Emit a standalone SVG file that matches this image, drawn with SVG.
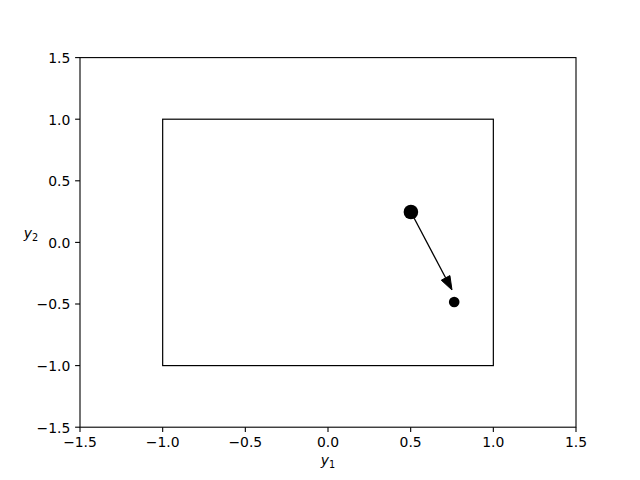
<svg xmlns="http://www.w3.org/2000/svg" width="640" height="480" viewBox="0 0 640 480">
<style>
.t{font-family:"DejaVu Sans",sans-serif;font-size:13.9px;fill:#000}
.tk{stroke:#000;stroke-width:1.1}
.lbl{font-family:"DejaVu Sans",sans-serif;font-size:13.9px;font-style:italic}
.sub{font-style:normal;font-size:9.7px}
</style>
<rect width="640" height="480" fill="#fff"/>
<g id="axes">
<rect x="80" y="57.6" width="496" height="369.6" fill="none" stroke="#000" stroke-width="1.1"/>
<g class="tk">
<line x1="80" y1="427.2" x2="80" y2="432.1"/>
<line x1="162.67" y1="427.2" x2="162.67" y2="432.1"/>
<line x1="245.33" y1="427.2" x2="245.33" y2="432.1"/>
<line x1="328" y1="427.2" x2="328" y2="432.1"/>
<line x1="410.67" y1="427.2" x2="410.67" y2="432.1"/>
<line x1="493.33" y1="427.2" x2="493.33" y2="432.1"/>
<line x1="576" y1="427.2" x2="576" y2="432.1"/>
<line x1="75.1" y1="57.6" x2="80" y2="57.6"/>
<line x1="75.1" y1="119.2" x2="80" y2="119.2"/>
<line x1="75.1" y1="180.8" x2="80" y2="180.8"/>
<line x1="75.1" y1="242.4" x2="80" y2="242.4"/>
<line x1="75.1" y1="304" x2="80" y2="304"/>
<line x1="75.1" y1="365.6" x2="80" y2="365.6"/>
<line x1="75.1" y1="427.2" x2="80" y2="427.2"/>
</g>
<g class="t" text-anchor="middle">
<text x="80" y="446.5">−1.5</text>
<text x="162.67" y="446.5">−1.0</text>
<text x="245.33" y="446.5">−0.5</text>
<text x="328" y="446.5">0.0</text>
<text x="410.67" y="446.5">0.5</text>
<text x="493.33" y="446.5">1.0</text>
<text x="576" y="446.5">1.5</text>
</g>
<g class="t" text-anchor="end">
<text x="70.3" y="62.9">1.5</text>
<text x="70.3" y="124.5">1.0</text>
<text x="70.3" y="186.1">0.5</text>
<text x="70.3" y="247.7">0.0</text>
<text x="70.3" y="309.3">−0.5</text>
<text x="70.3" y="370.9">−1.0</text>
<text x="70.3" y="432.5">−1.5</text>
</g>
<text class="lbl" x="328" y="465" text-anchor="middle">y<tspan class="sub" dy="2.5">1</tspan></text>
<text class="lbl" x="31" y="238" text-anchor="middle">y<tspan class="sub" dy="2.5">2</tspan></text>
</g>
<g id="box">
<rect x="162.67" y="119.2" width="330.67" height="246.4" fill="none" stroke="#000" stroke-width="1.2"/>
</g>
<g id="start">
<circle cx="410.9" cy="212" r="7.3" fill="#000"/>
</g>
<g id="end">
<circle cx="454.2" cy="302" r="5.3" fill="#000"/>
</g>
<g id="connectors">
<line x1="410.9" y1="212" x2="445.6" y2="277.8" stroke="#000" stroke-width="1.3"/>
<polygon points="452,290 441.3,280.2 449.9,275.6" fill="#000" stroke="#000" stroke-width="1"/>
</g>
</svg>
